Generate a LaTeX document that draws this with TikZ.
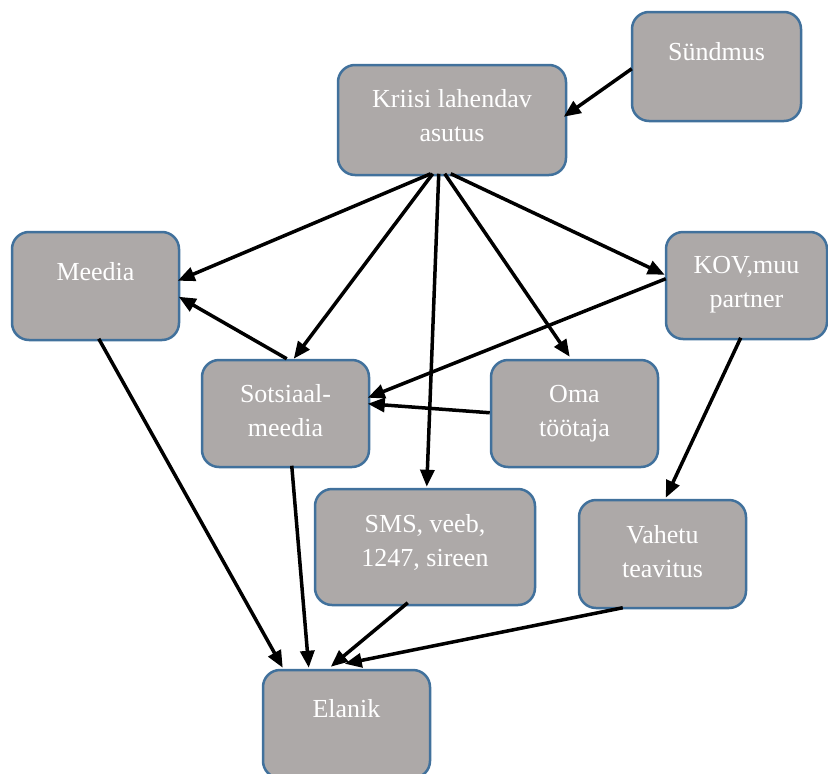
\documentclass[tikz,border=0pt]{standalone}
\usepackage{fontspec}
\setmainfont{Liberation Serif}
\usetikzlibrary{arrows.meta,calc}
\definecolor{boxfill}{HTML}{ADA9A8}
\definecolor{boxline}{HTML}{41719C}
\begin{document}
\begin{tikzpicture}[x=1pt,y=-1pt,
 box/.style={draw=boxline, fill=boxfill, line width=2.5pt, rounded corners=17pt, inner sep=0pt},
 lbl/.style={text=white, font=\fontsize{26}{34}\selectfont, align=center, inner sep=0pt, anchor=north},
 arr/.style={line width=3.5pt, -{Triangle[length=17pt,width=14pt]}}]
\useasboundingbox (0,0) rectangle (828,774);
% boxes
\node[box, minimum width=169pt, minimum height=109pt] (S) at (716.5,66.5) {};
\node[box, minimum width=228pt, minimum height=110pt] (K) at (452,120) {};
\node[box, minimum width=167pt, minimum height=108pt] (M) at (95.5,286) {};
\node[box, minimum width=161pt, minimum height=107pt] (V) at (746.5,285.5) {};
\node[box, minimum width=167pt, minimum height=107pt] (So) at (285.5,413.5) {};
\node[box, minimum width=167pt, minimum height=107pt] (O) at (574.5,413.5) {};
\node[box, minimum width=220pt, minimum height=116pt] (SMS) at (425,547) {};
\node[box, minimum width=167pt, minimum height=108pt] (Va) at (662.5,554) {};
\node[box, minimum width=167pt, minimum height=108pt] (E) at (346.5,724) {};
% texts
\node[lbl] (St) at (716.5,42) {\rule{0pt}{18pt}Sündmus};
\node[lbl] (Kt) at (452,89) {\rule{0pt}{18pt}Kriisi lahendav\\asutus};
\node[lbl] (Mt) at (95.5,262) {\rule{0pt}{18pt}Meedia};
\node[lbl] (Vt) at (746.5,255) {\rule{0pt}{18pt}KOV,muu\\partner};
\node[lbl] (Sot) at (285.5,384) {\rule{0pt}{18pt}Sotsiaal-\\meedia};
\node[lbl] (Ot) at (574.5,384) {\rule{0pt}{18pt}Oma\\töötaja};
\node[lbl] (SMSt) at (425,514) {\rule{0pt}{18pt}SMS, veeb,\\1247, sireen};
\node[lbl] (Vat) at (662.5,525) {\rule{0pt}{18pt}Vahetu\\teavitus};
\node[lbl] (Et) at (346.5,699) {\rule{0pt}{18pt}Elanik};
% arrows
\draw[arr] ($(S.north west)+(1,58)$) -- ($(K.north west)+(227,53)$);
\draw[arr] ($(K.north west)+(94,110)$) -- ($(M.north west)+(167,50)$);
\draw[arr] ($(So.north west)+(86,0)$) -- ($(M.north west)+(168,66)$);
\draw[arr] ($(K.north west)+(96,110)$) -- ($(So.north west)+(93,0)$);
\draw[arr] ($(K.north west)+(102,110)$) -- ($(SMS.north west)+(113,-1)$);
\draw[arr] ($(K.north west)+(108,110)$) -- ($(O.north west)+(80,-2)$);
\draw[arr] ($(K.north west)+(114,110)$) -- ($(V.north west)+(0,44)$);
\draw[arr] ($(V.north west)+(1,48)$) -- ($(So.north west)+(167,39)$);
\draw[arr] ($(O.north west)+(0,54)$) -- ($(So.north west)+(167,45)$);
\draw[arr] ($(V.north west)+(76,107)$) -- ($(Va.north west)+(88,-1)$);
\draw[arr] ($(M.north west)+(88,108)$) -- ($(E.north west)+(21,-1)$);
\draw[arr] ($(So.north west)+(91,107)$) -- ($(E.north west)+(47,-1)$);
\draw[arr] ($(SMS.north west)+(94,115)$) -- ($(E.north west)+(69,-2)$);
\draw[arr] ($(Va.north west)+(45,109)$) -- ($(E.north west)+(83,-5)$);
\end{tikzpicture}
\end{document}
